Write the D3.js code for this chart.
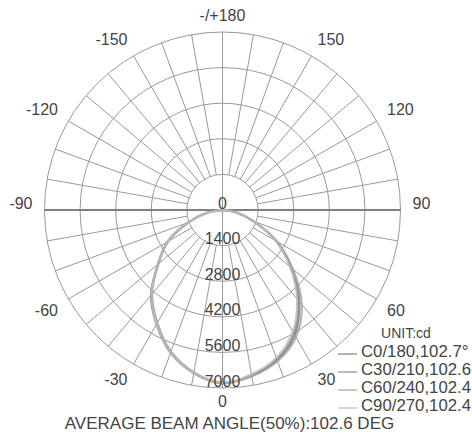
<!DOCTYPE html>
<html>
<head>
<meta charset="utf-8">
<script src="https://cdn.jsdelivr.net/npm/d3@7"></script>
<style>
  html, body { margin: 0; padding: 0; background: #fff; }
  svg { display: block; }
  text { font-family: "Liberation Sans", Arial, sans-serif; fill: #444; }
</style>
</head>
<body>
<svg id="chart" width="472" height="435"></svg>
<script>
// ---- data ----
const gammaAngles = [-90, -80, -70, -60, -50, -40, -30, -20, -10, 0, 10, 20, 30, 40, 50, 60, 70, 80, 90];
const seriesNames = ["C0/180,102.7°", "C30/210,102.6°", "C60/240,102.4°", "C90/270,102.4°"];
const c0_180  = [0, 620, 1420, 2480, 3300, 4350, 5150, 5950, 6500, 6800, 6620, 6280, 5680, 4700, 3550, 2450, 1300, 550, 0];
const c30_210 = [0, 640, 1460, 2520, 3330, 4380, 5200, 5980, 6520, 6820, 6600, 6250, 5600, 4620, 3500, 2430, 1290, 540, 0];
const c60_240 = [0, 600, 1400, 2450, 3280, 4300, 5120, 5920, 6480, 6780, 6640, 6330, 5780, 4850, 3620, 2480, 1320, 560, 0];
const c90_270 = [0, 630, 1440, 2500, 3310, 4340, 5170, 5960, 6510, 6800, 6560, 6180, 5520, 4560, 3460, 2400, 1280, 530, 0];
const seriesValues = [c0_180, c30_210, c60_240, c90_270];
const ringValues = [1400, 2800, 4200, 5600, 7000];
const ringLabels = ["0", "1400", "2800", "4200", "5600", "7000"];
const angleTicks = [0, 30, 60, 90, 120, 150, 180, 210, 240, 270, 300, 330];
const angleLabels = ["0", "30", "60", "90", "120", "150", "-/+180", "-150", "-120", "-90", "-60", "-30"];
const unitLabel = "UNIT:cd";
const footer = "AVERAGE BEAM ANGLE(50%):102.6 DEG";

// ---- layout ----
const cx = 222.5, cy = 210, R = 178;
const seriesColors = ["#7d7d7d", "#8e8e8e", "#a2a2a2", "#bdbdbd"];
const gridColor = "#999";

const svg = d3.select("#chart");
svg.append("rect").attr("width", 472).attr("height", 435).attr("fill", "#fff");
const g = svg.append("g").attr("transform", `translate(${cx},${cy})`);

const r = d3.scaleLinear().domain([0, 7000]).range([0, R]);
// gamma angle (0 at bottom, positive to the right) -> d3 radial angle (0 at top, clockwise)
const toRad = a => Math.PI - a * Math.PI / 180;
const px = (a, rad) => rad * Math.sin(toRad(a));
const py = (a, rad) => -rad * Math.cos(toRad(a));

// rings
g.selectAll("circle.ring").data(ringValues).join("circle")
  .attr("class", "ring").attr("r", d => r(d))
  .attr("fill", "none").attr("stroke", gridColor).attr("stroke-width", 1);

// spokes every 10 degrees from inner ring outward
const spokes = d3.range(0, 360, 10);
g.selectAll("line.spoke").data(spokes).join("line")
  .attr("class", "spoke")
  .attr("x1", d => px(d, r(ringValues[0]))).attr("y1", d => py(d, r(ringValues[0])))
  .attr("x2", d => px(d, r(7000))).attr("y2", d => py(d, r(7000)))
  .attr("stroke", gridColor).attr("stroke-width", 1);

// main axes through the centre
g.append("line").attr("x1", px(90, r(7000))).attr("y1", 0).attr("x2", px(270, r(7000))).attr("y2", 0)
  .attr("stroke", "#808080").attr("stroke-width", 1.8);
g.append("line").attr("x1", 0).attr("y1", py(180, r(7000))).attr("x2", 0).attr("y2", py(0, r(7000)))
  .attr("stroke", gridColor).attr("stroke-width", 1);

// curves
const line = d3.lineRadial()
  .angle((d, i) => toRad(gammaAngles[i]))
  .radius(d => r(d))
  .curve(d3.curveCatmullRom.alpha(0.5));
g.selectAll("path.series").data(seriesValues).join("path")
  .attr("class", "series")
  .attr("d", d => line(d))
  .attr("fill", "none")
  .attr("stroke", (d, i) => seriesColors[i])
  .attr("stroke-width", 2)
  .attr("stroke-opacity", 0.85);

// ring labels along the lower vertical axis
g.selectAll("text.rl").data(ringLabels).join("text")
  .attr("class", "rl")
  .attr("x", 0).attr("y", d => r(+d) - 7)
  .attr("text-anchor", "middle").attr("dominant-baseline", "central")
  .attr("font-size", 16).text(d => d);

// angle labels
const LR = 190;
g.selectAll("text.al").data(angleTicks).join("text")
  .attr("class", "al")
  .attr("x", d => px(d, LR))
  .attr("y", d => {
    const y = py(d, LR);
    if (d === 90 || d === 270) return y - 7;
    if (d === 0) return y + 1;
    if (d === 180) return y - 5;
    return (d < 90 || d > 270) ? y + 5 : y - 6;
  })
  .attr("text-anchor", d => (d === 0 || d === 180) ? "middle" : (d < 180 ? "start" : "end"))
  .attr("dominant-baseline", "central")
  .attr("font-size", 16)
  .text((d, i) => angleLabels[i]);

// legend
svg.append("text").attr("x", 406).attr("y", 333)
  .attr("text-anchor", "middle").attr("dominant-baseline", "central")
  .attr("font-size", 14).text(unitLabel);
const lg = svg.selectAll("g.leg").data(seriesNames).join("g").attr("class", "leg")
  .attr("transform", (d, i) => `translate(0,${351 + i * 18})`);
lg.append("line").attr("x1", 338).attr("x2", 357).attr("y1", 3).attr("y2", 3)
  .attr("stroke", (d, i) => seriesColors[i]).attr("stroke-width", 1.2);
lg.append("text").attr("x", 361).attr("y", 0).attr("dominant-baseline", "central")
  .attr("font-size", 16.8).text(d => d);

// footer
svg.append("text").attr("x", 229.5).attr("y", 423)
  .attr("text-anchor", "middle").attr("dominant-baseline", "central")
  .attr("font-size", 17).text(footer);
</script>
</body>
</html>
